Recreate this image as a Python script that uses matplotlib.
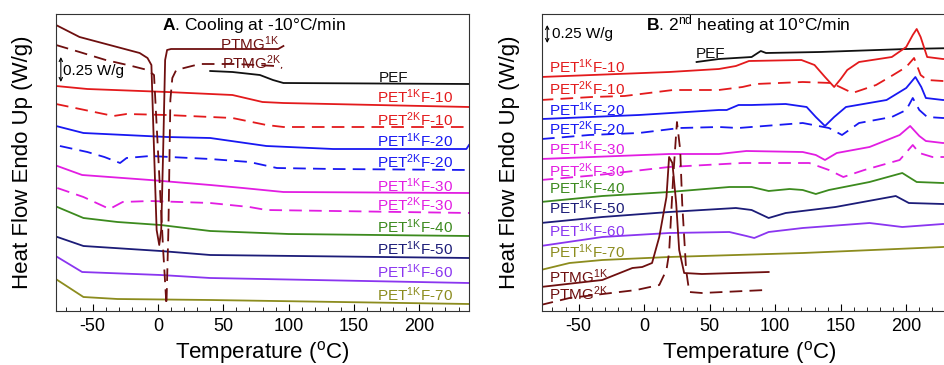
import matplotlib
matplotlib.use('Agg')
from matplotlib import pyplot as plt

plt.rcParams['font.family'] = ['Liberation Sans', 'DejaVu Sans']
plt.rcParams['mathtext.fontset'] = 'custom'
plt.rcParams['mathtext.rm'] = 'Liberation Sans'
plt.rcParams['mathtext.bf'] = 'Liberation Sans:bold'
plt.rcParams['mathtext.it'] = 'Liberation Sans:italic'
plt.rcParams['axes.unicode_minus'] = False

# stacked heat flow curves, arbitrary offset units (0.25 W/g = 24 units in A, 18 units in B)
# --- A: cooling at -10 C/min ---
cool_pef_t = [40, 57, 78, 88, 96, 238]
cool_pef_h = [240, 239, 236, 231, 228, 227]
cool_1k10_t = [-78, -54, 7, 57, 80, 96, 238]
cool_1k10_h = [225, 222, 219, 216, 209, 208, 204]
cool_2k10_t = [-78, -34, -24, 7, 57, 83, 96, 238]
cool_2k10_h = [207, 195, 197, 196, 193, 186, 184, 184]
cool_1k20_t = [-78, -57, 7, 40, 83, 134, 236, 238]
cool_1k20_h = [185, 178, 174, 173, 165, 162, 162, 166]
cool_2k20_t = [-75, -54, -41, -29, -24, -6, 40, 70, 91, 134, 238]
cool_2k20_h = [165, 159, 154, 148, 153, 155, 152, 149, 143, 142, 141]
cool_1k30_t = [-77, -58, -6, 40, 65, 96, 238]
cool_1k30_h = [145, 136, 131, 126, 123, 119, 118]
cool_2k30_t = [-77, -57, -37, -27, -6, 40, 70, 83, 238]
cool_2k30_h = [123, 114, 102, 109, 110, 108, 104, 101, 98]
cool_1k40_t = [-77, -57, -31, 2, 40, 100, 238]
cool_1k40_h = [104, 93, 89, 86, 80, 77, 75]
cool_1k50_t = [-77, -57, 2, 40, 238]
cool_1k50_h = [74, 65, 60, 56, 53]
cool_1k60_t = [-77, -58, 2, 40, 238]
cool_1k60_h = [54, 39, 36, 33, 28]
cool_1k70_t = [-77, -57, -31, 40, 238]
cool_1k70_h = [31, 14, 12, 11, 7]
cool_ptmg1k_t = [-78, -60, -14, -8, -5, -3, -1, 1, 2.5, 4, 5.5, 7, 10, 60, 92, 96]
cool_ptmg1k_h = [286, 274, 258, 253, 246, 161, 81, 66, 81, 161, 251, 261, 262, 262, 262, 265]
cool_ptmg2k_t = [-78, -60, -40, -20, -8, -3, 0, 4, 6.5, 8, 9.5, 11, 14, 32, 60, 90, 95]
cool_ptmg2k_h = [266, 259, 251, 245, 241, 236, 161, 61, 6, 81, 211, 233, 241, 247, 247, 245, 243]

# --- B: 2nd heating at 10 C/min ---
heat_pef_t = [40, 57, 82, 89, 93, 134, 200, 238]
heat_pef_h = [249, 252, 254, 260, 258, 259, 262, 263]
heat_1k10_t = [-79, 19, 57, 70, 80, 120, 130, 138, 145, 150, 155, 164, 189, 200, 205, 208, 211, 214, 216, 228, 238]
heat_1k10_h = [234, 239, 242, 245, 250, 251, 246, 234, 224, 232, 241, 249, 254, 264, 276, 282, 274, 262, 254, 252, 252]
heat_2k10_t = [-79, -40, -15, 22, 57, 75, 85, 121, 143, 159, 177, 190, 200, 206, 211, 216, 228, 238]
heat_2k10_h = [211, 214, 215, 221, 221, 224, 227, 229, 228, 218, 226, 236, 244, 253, 236, 231, 230, 230]
heat_1k20_t = [-78, -4, 57, 63, 72, 82, 108, 124, 131, 138, 145, 154, 185, 200, 207, 211.5, 215, 228, 238]
heat_1k20_h = [192, 196, 201, 201, 206, 206, 207, 204, 194, 185, 194, 204, 211, 223, 234, 224, 213, 211, 211]
heat_2k20_t = [-78, -42, -4, 27, 57, 72, 121, 141, 151, 164, 189, 200, 205, 210, 216, 228, 238]
heat_2k20_h = [172, 176, 178, 183, 184, 183, 188, 183, 176, 188, 194, 201, 213, 201, 194, 193, 193]
heat_1k30_t = [-79, 19, 57, 78, 121, 131, 138, 147, 172, 195, 203, 210, 215, 228, 238]
heat_1k30_h = [152, 157, 157, 160, 159, 156, 151, 158, 164, 176, 185, 175, 170, 168, 168]
heat_2k30_t = [-79, -35, 19, 75, 126, 141, 152, 168, 195, 205, 210, 220, 228, 238]
heat_2k30_h = [131, 136, 144, 148, 148, 141, 134, 141, 151, 166, 158, 154, 154, 154]
heat_1k40_t = [-79, -32, 19, 65, 82, 95, 111, 121, 131, 141, 172, 197, 208, 228, 238]
heat_1k40_h = [109, 115, 119, 124, 124, 120, 122, 121, 117, 121, 129, 138, 129, 128, 128]
heat_1k50_t = [-79, -32, 19, 70, 82, 95, 108, 146, 192, 202, 228, 238]
heat_1k50_h = [88, 94, 99, 103, 101, 93, 98, 104, 115, 108, 107, 107]
heat_1k60_t = [-79, -32, 19, 65, 78, 84, 95, 121, 172, 197, 228, 238]
heat_1k60_h = [65, 74, 78, 79, 75, 73, 79, 83, 88, 84, 87, 87]
heat_1k70_t = [-79, -57, -32, 19, 121, 228, 238]
heat_1k70_h = [41, 48, 51, 54, 58, 64, 65]
heat_ptmg1k_t = [-79, -32, -9, -1.5, 6, 11.5, 17, 19, 21.5, 24.4, 26.7, 30.5, 44, 95]
heat_ptmg1k_h = [24, 31, 43, 44, 48, 74, 114, 154, 148, 108, 61, 38, 37, 39]
heat_ptmg2k_t = [-79, -57, -6, 11.5, 17, 19, 22, 25, 27.5, 29, 32, 34.4, 44, 93]
heat_ptmg2k_h = [6, 13, 21, 26, 41, 58, 131, 189, 161, 108, 41, 19, 18, 21]

names = ['PEF', r'PET$^{\mathrm{1K}}$F-10', r'PET$^{\mathrm{2K}}$F-10', r'PET$^{\mathrm{1K}}$F-20',
         r'PET$^{\mathrm{2K}}$F-20', r'PET$^{\mathrm{1K}}$F-30', r'PET$^{\mathrm{2K}}$F-30',
         r'PET$^{\mathrm{1K}}$F-40', r'PET$^{\mathrm{1K}}$F-50', r'PET$^{\mathrm{1K}}$F-60',
         r'PET$^{\mathrm{1K}}$F-70', r'PTMG$^{\mathrm{1K}}$', r'PTMG$^{\mathrm{2K}}$']
colors = ['#111111', '#E31A1C', '#E31A1C', '#1818F2', '#1818F2', '#E21DE2', '#E21DE2',
          '#3C8A1E', '#1C1C78', '#8A35F0', '#8C8C1E', '#6E0F0F', '#6E0F0F']
dashed = [False, False, True, False, True, False, True, False, False, False, False, False, True]

cool = [(cool_pef_t, cool_pef_h), (cool_1k10_t, cool_1k10_h), (cool_2k10_t, cool_2k10_h),
        (cool_1k20_t, cool_1k20_h), (cool_2k20_t, cool_2k20_h), (cool_1k30_t, cool_1k30_h),
        (cool_2k30_t, cool_2k30_h), (cool_1k40_t, cool_1k40_h), (cool_1k50_t, cool_1k50_h),
        (cool_1k60_t, cool_1k60_h), (cool_1k70_t, cool_1k70_h), (cool_ptmg1k_t, cool_ptmg1k_h),
        (cool_ptmg2k_t, cool_ptmg2k_h)]
heat = [(heat_pef_t, heat_pef_h), (heat_1k10_t, heat_1k10_h), (heat_2k10_t, heat_2k10_h),
        (heat_1k20_t, heat_1k20_h), (heat_2k20_t, heat_2k20_h), (heat_1k30_t, heat_1k30_h),
        (heat_2k30_t, heat_2k30_h), (heat_1k40_t, heat_1k40_h), (heat_1k50_t, heat_1k50_h),
        (heat_1k60_t, heat_1k60_h), (heat_1k70_t, heat_1k70_h), (heat_ptmg1k_t, heat_ptmg1k_h),
        (heat_ptmg2k_t, heat_ptmg2k_h)]

# label anchors (T, baseline)
cool_lab = [(191.6, 229, 'right'), (226, 208, 'right'), (226, 185, 'right'), (226, 164, 'right'),
            (226, 143, 'right'), (226, 119, 'right'), (226, 100, 'right'), (226, 78, 'right'),
            (226, 56, 'right'), (226, 33, 'right'), (226, 10, 'right'), (47.5, 261, 'left'),
            (49, 242, 'left')]
heat_lab = [(39.7, 253, 'left'), (-72.5, 238, 'left'), (-72.5, 216, 'left'), (-72.5, 195, 'left'),
            (-72.5, 176, 'left'), (-72.5, 156, 'left'), (-72.5, 134, 'left'), (-72.5, 117, 'left'),
            (-72.5, 97, 'left'), (-72.5, 74, 'left'), (-72.5, 53, 'left'), (-72.5, 28, 'left'),
            (-72.5, 11, 'left')]

fig = plt.figure(figsize=(9.44, 3.65), dpi=100)
ax1 = fig.add_axes([56 / 944, 54 / 365, 413 / 944, 297 / 365])
ax2 = fig.add_axes([542 / 944, 54 / 365, 414 / 944, 297 / 365])


def panel(ax, curves, labs):
    for (t, h), c, d in zip(curves, colors, dashed):
        ax.plot(t, h, color=c, lw=1.3, ls=(0, (7, 4)) if d else '-')
    for (x, y, ha), name, c in zip(labs, names, colors):
        ax.text(x, y, name, color=c, fontsize=11, ha=ha, va='baseline')
    ax.set_xlim(-78, 238)
    ax.set_ylim(0, 297)
    ax.set_yticks([])
    ax.set_xticks([-50, 0, 50, 100, 150, 200])
    ax.set_xticks(range(-70, 240, 10), minor=True)
    ax.tick_params(axis='x', which='both', direction='in', labelsize=13, pad=5)
    ax.tick_params(axis='x', which='major', length=5)
    ax.tick_params(axis='x', which='minor', length=3)
    for s in ax.spines.values():
        s.set_color('#333333')
    ax.set_xlabel(r'Temperature ($^{\mathrm{o}}$C)', fontsize=16, labelpad=3)
    ax.set_ylabel('Heat Flow Endo Up (W/g)', fontsize=16)


panel(ax1, cool, cool_lab)
panel(ax2, heat, heat_lab)
ax1.yaxis.set_label_coords(-0.056, 0.5)
ax2.yaxis.set_label_coords(-0.053, 0.5)

ax1.text(3, 281, r'$\mathbf{A}$. Cooling at -10°C/min', fontsize=12.5, va='baseline')
ax2.text(1.5, 281, r'$\mathbf{B}$. 2$^{\mathrm{nd}}$ heating at 10°C/min', fontsize=12.5, va='baseline')

# 0.25 W/g scale bars
ax1.annotate('', xy=(-74.3, 254), xytext=(-74.3, 229),
             arrowprops=dict(arrowstyle='<->', lw=0.8, color='k', shrinkA=0, shrinkB=0, mutation_scale=6))
ax1.text(-72.8, 240, '0.25 W/g', fontsize=11, va='center')
ax2.annotate('', xy=(-74, 286), xytext=(-74, 268),
             arrowprops=dict(arrowstyle='<->', lw=0.8, color='k', shrinkA=0, shrinkB=0, mutation_scale=6))
ax2.text(-70, 277, '0.25 W/g', fontsize=11, va='center')

fig.savefig('out.png', dpi=100)
